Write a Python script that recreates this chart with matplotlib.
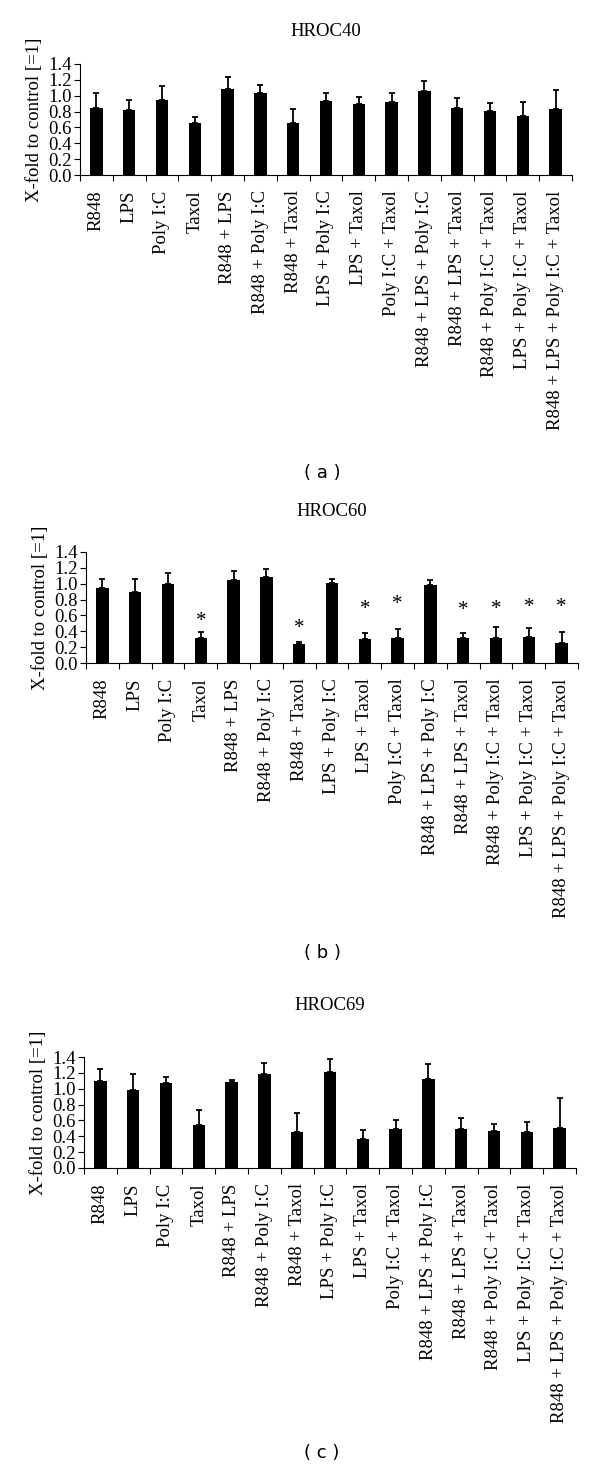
import matplotlib
matplotlib.use("Agg")
import matplotlib.pyplot as plt
import numpy as np

labels = ["R848", "LPS", "Poly I:C", "Taxol", "R848 + LPS", "R848 + Poly I:C",
          "R848 + Taxol", "LPS + Poly I:C", "LPS + Taxol", "Poly I:C + Taxol",
          "R848 + LPS + Poly I:C", "R848 + LPS + Taxol", "R848 + Poly I:C + Taxol",
          "LPS + Poly I:C + Taxol", "R848 + LPS + Poly I:C + Taxol"]

# mean x-fold values and upper error (SD) per treatment
hroc40 = [0.84, 0.82, 0.94, 0.65, 1.09, 1.04, 0.66, 0.93, 0.90, 0.92, 1.06, 0.84, 0.81, 0.74, 0.83]
sd40 = [0.19, 0.12, 0.18, 0.08, 0.14, 0.10, 0.17, 0.11, 0.08, 0.11, 0.12, 0.13, 0.10, 0.18, 0.24]

hroc60 = [0.94, 0.90, 1.00, 0.32, 1.05, 1.09, 0.24, 1.01, 0.30, 0.31, 0.99, 0.31, 0.32, 0.33, 0.25]
sd60 = [0.12, 0.16, 0.14, 0.07, 0.11, 0.09, 0.02, 0.05, 0.08, 0.12, 0.06, 0.07, 0.13, 0.11, 0.14]
stars60 = [3, 6, 8, 9, 11, 12, 13, 14]
star_y60 = [0.52, 0.44, 0.67, 0.74, 0.66, 0.67, 0.70, 0.70]

hroc69 = [1.10, 0.98, 1.07, 0.54, 1.09, 1.18, 0.46, 1.21, 0.37, 0.49, 1.12, 0.49, 0.47, 0.46, 0.50]
sd69 = [0.15, 0.20, 0.08, 0.19, 0.02, 0.15, 0.24, 0.17, 0.11, 0.11, 0.19, 0.14, 0.09, 0.12, 0.38]

serif = "Liberation Serif"
fs = 13.5
W, H = 600, 1476


def panel(fig, left, top, title, title_y, tag, tag_y, vals, sd, stars=None, star_y=None):
    # positions in pixels from top-left, converted to figure fractions
    width = 492
    height = 111
    ax = fig.add_axes([left / W, 1 - (top + height) / H, width / W, height / H])
    x = np.arange(len(vals)) + 0.5
    ax.bar(x, vals, width=0.38, color="black")
    ax.errorbar(x, vals, yerr=[np.zeros(len(sd)), sd], fmt="none", ecolor="black",
                elinewidth=1.3, capsize=2.2, capthick=1.3)
    if stars:
        for i, sy in zip(stars, star_y):
            ax.text(x[i], sy, "*", ha="center", va="center", fontsize=15, family=serif)
    ax.set_xlim(0, len(vals))
    ax.set_ylim(0, 1.4)
    ax.set_yticks(np.arange(0, 1.41, 0.2))
    ax.set_yticklabels(["%.1f" % v for v in np.arange(0, 1.41, 0.2)], family=serif, fontsize=fs)
    ax.set_xticks(x)
    ax.set_xticklabels(labels, rotation=90, family=serif, fontsize=fs)
    ax.tick_params(axis="x", which="major", length=0, pad=11)
    ax.set_xticks(np.arange(0, len(vals) + 1), minor=True)
    ax.tick_params(axis="x", which="minor", length=4, width=0.8, direction="out")
    ax.tick_params(axis="y", length=4, width=0.8, direction="out", pad=2)
    for s in ["top", "right"]:
        ax.spines[s].set_visible(False)
    ax.spines["left"].set_linewidth(0.8)
    ax.spines["bottom"].set_linewidth(0.8)
    ax.set_ylabel("X-fold to control [=1]", family=serif, fontsize=fs, labelpad=4)
    fig.text((left + width / 2) / W, 1 - title_y / H, title, ha="center", va="center",
             family=serif, fontsize=fs)
    fig.text(322 / W, 1 - tag_y / H, "( %s )" % tag, ha="center", va="center",
             family="DejaVu Sans", fontsize=13)
    return ax


fig = plt.figure(figsize=(W / 100, H / 100), dpi=100)
panel(fig, 80, 64, "HROC40", 31, "a", 473, hroc40, sd40)
panel(fig, 86, 552, "HROC60", 511, "b", 953, hroc60, sd60, stars60, star_y60)
panel(fig, 84, 1057, "HROC69", 1006, "c", 1453, hroc69, sd69)
fig.savefig("out.png", dpi=100)
